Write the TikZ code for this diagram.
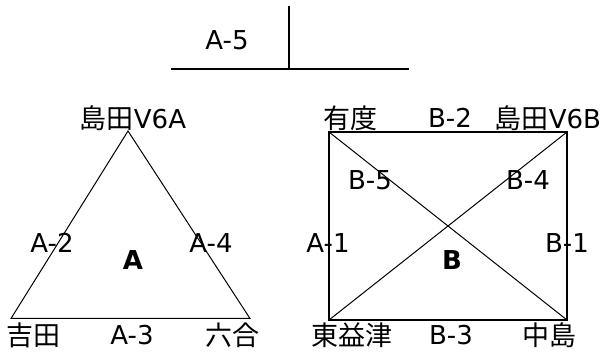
\documentclass[tikz,border=0pt]{standalone}
\usepackage{fontspec}
\setmainfont{DejaVu Sans}
\newfontfamily\jp{Noto Sans CJK JP}
\usetikzlibrary{positioning}

\newcommand{\ja}[1]{{\jp\fontsize{27}{30}\selectfont #1}}

\begin{document}
\begin{tikzpicture}[
      x=1pt, y=1pt,
      font=\fontsize{26}{30}\selectfont,
      lbl/.style={inner sep=0pt},
      area/.style={lbl, font=\fontsize{26}{30}\selectfont\bfseries},
      edge/.style={line width=1pt},
      frame/.style={line width=1.7pt},
      bar/.style={line width=2.7pt},
    ]
    \useasboundingbox (0,0) rectangle (605,353);

    % top cross line
    \coordinate (hl) at (171,284);
    \coordinate (hr) at (409,284);
    \coordinate (vt) at (289,347);
    \coordinate (vb) at (289,284);
    \draw[bar] (hl) -- (hr);
    \draw[bar] (vt) -- (vb);
    \node[lbl] (a5) at (227,313) {A-5};

    % triangle A
    \coordinate (shimadaA) at (128,222);
    \coordinate (yoshida) at (11,34.5);
    \coordinate (rokugo) at (250,34.5);
    \draw[edge] (shimadaA) -- (yoshida) -- (rokugo) -- cycle;

    \node[lbl] (nshimadaA) at (133,235) {\ja{島田}V6A};
    \node[lbl] (nyoshida) at (33,18) {\ja{吉田}};
    \node[lbl] (nrokugo) at (232,18) {\ja{六合}};
    \node[lbl] (a2) at (52,110) {A-2};
    \node[lbl] (a4) at (211,110) {A-4};
    \node[lbl] (a3) at (132,18) {A-3};
    \node[area] (ta) at (133,93) {A};

    % rectangle B
    \coordinate (mochimune) at (329,221);
    \coordinate (shimadaB) at (567,221);
    \coordinate (nakajima) at (567,33);
    \coordinate (higashi) at (329,33);
    \draw[frame] (mochimune) -- (shimadaB) -- (nakajima) -- (higashi) -- cycle;
    \draw[edge] (mochimune) -- (nakajima);
    \draw[edge] (higashi) -- (shimadaB);

    \node[lbl] (nmochimune) at (350,235) {\ja{有度}};
    \node[lbl] (nshimadaB) at (548,235) {\ja{島田}V6B};
    \node[lbl] (nhigashi) at (352,18) {\ja{東益津}};
    \node[lbl] (nnakajima) at (549,18) {\ja{中島}};
    \node[lbl] (b2) at (450,235) {B-2};
    \node[lbl] (b5) at (370,173) {B-5};
    \node[lbl] (b4) at (528,173) {B-4};
    \node[lbl] (a1) at (328,110) {A-1};
    \node[lbl] (b1) at (567,110) {B-1};
    \node[lbl] (b3) at (451,18) {B-3};
    \node[area] (tb) at (452,93) {B};
  \end{tikzpicture}
\end{document}
